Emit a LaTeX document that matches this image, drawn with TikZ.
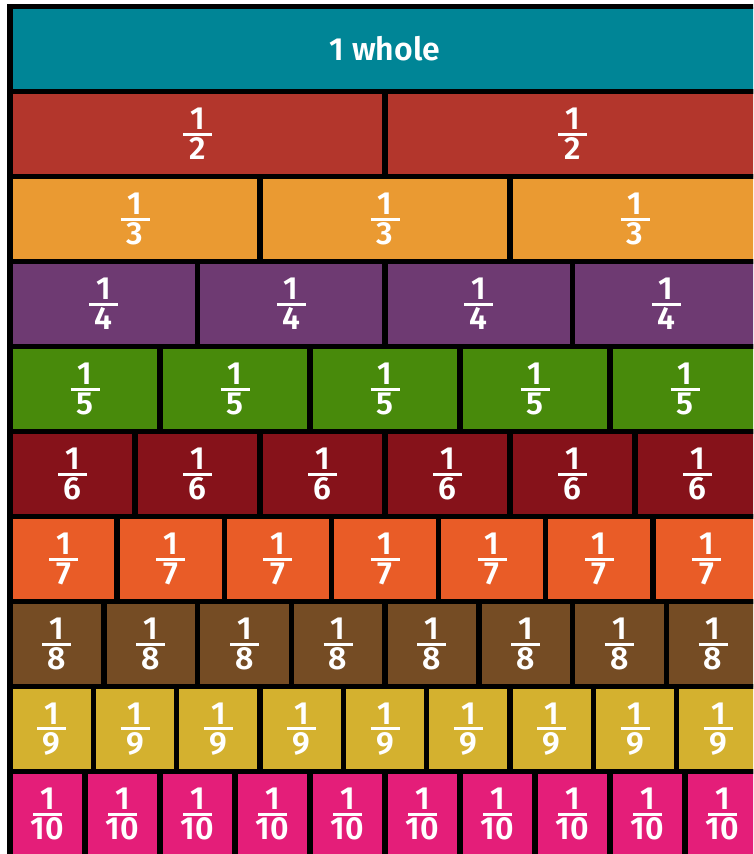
\documentclass[tikz,border=0pt]{standalone}
\usepackage{fontspec}
\setmainfont{Fira Sans}[BoldFont={Fira Sans SemiBold}]
\definecolor{c1}{HTML}{008596}
\definecolor{c2}{HTML}{B3362C}
\definecolor{c3}{HTML}{EA9A32}
\definecolor{c4}{HTML}{6E3A72}
\definecolor{c5}{HTML}{488A0B}
\definecolor{c6}{HTML}{86121A}
\definecolor{c7}{HTML}{E95C27}
\definecolor{c8}{HTML}{754C24}
\definecolor{c9}{HTML}{D4B12F}
\definecolor{c10}{HTML}{E41E79}
\newcommand\onefrac[1]{\vbox{\offinterlineskip\halign{\hfil##\hfil\cr 1\cr\noalign{\kern3pt}\rule{29pt}{3pt}\cr\noalign{\kern2pt}#1\cr}}}

\begin{document}
\begin{tikzpicture}[x=1pt, y=1pt, piece/.style={draw=black, line width=5.5pt, inner sep=0pt, outer sep=0pt, minimum height=85pt, text=white, font=\fontsize{32}{32}\selectfont\bfseries}]
\useasboundingbox (0,0) rectangle (753,-854);
\clip (0,0) rectangle (753,-854);
\node[piece, fill=c1, minimum width=750pt] (whole) at (385,-49) {1 whole};
\foreach \n in {2,...,10}
  \foreach \k in {1,...,\n}
    \node[piece, fill=c\n, minimum width=750pt/\n] (p\n-\k) at ({10+750*(\k-0.5)/\n}, {-6.5-85*(\n-0.5)}) {\onefrac{\n}};
\end{tikzpicture}
\end{document}
